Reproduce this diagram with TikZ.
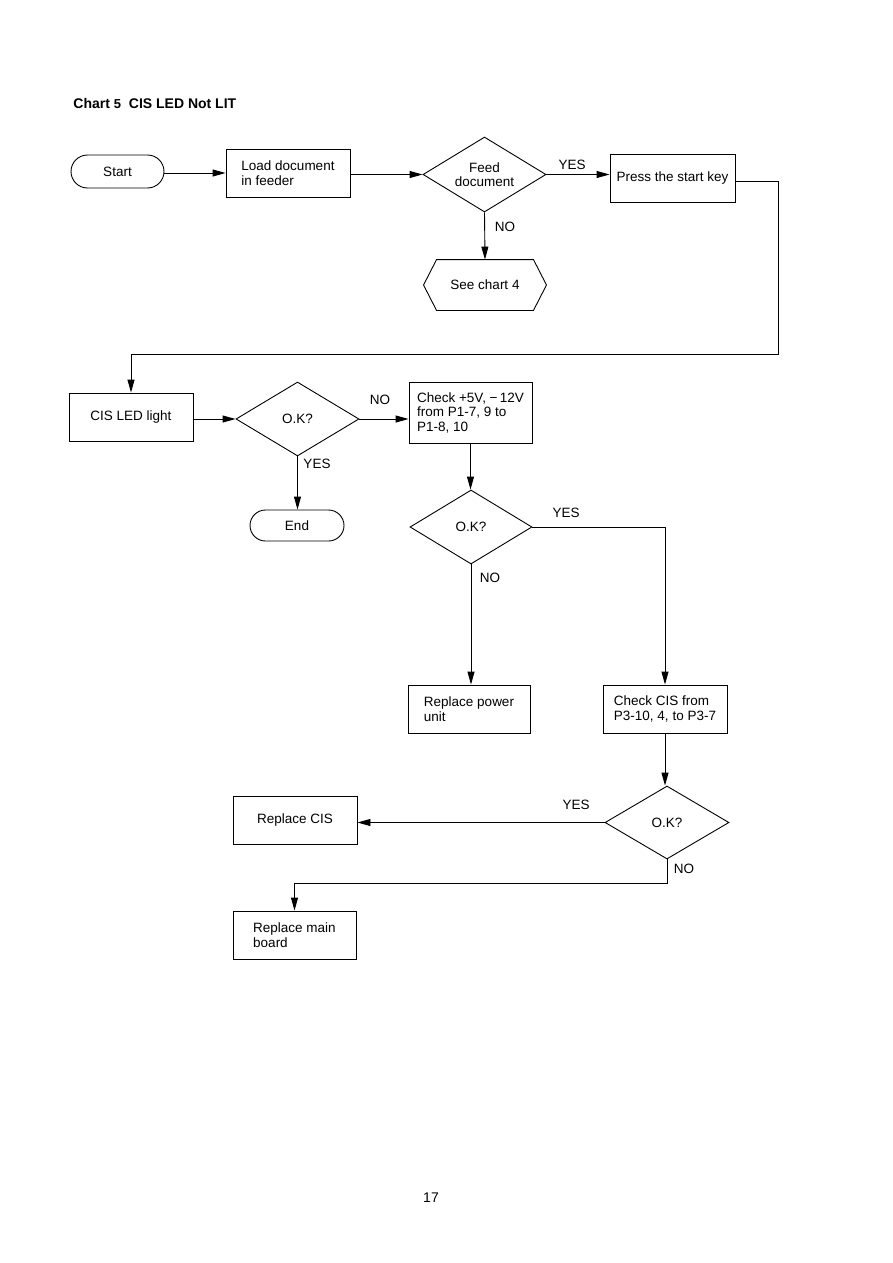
\documentclass[tikz,border=0pt]{standalone}
\usepackage{fontspec}
\setmainfont{Liberation Sans}
\usetikzlibrary{arrows.meta,shapes.geometric,shapes.misc}
\begin{document}
\begin{tikzpicture}[x=1pt,y=-1pt,line width=0.9pt,
  font=\fontsize{13.5}{14.5}\selectfont,
  proc/.style={draw,rectangle,align=left,inner sep=0pt},
  term/.style={draw,rounded rectangle,inner sep=0pt},
  dec/.style={draw,diamond,aspect=1.65,inner sep=0pt,align=center},
  lbl/.style={inner sep=0pt},
  arr/.style={-{Triangle[length=13pt,width=7pt]}}]
\useasboundingbox[fill=white] (0,0) rectangle (893,1263);
% title
\node[lbl,anchor=base west,font=\fontsize{14}{16}\selectfont\bfseries] (title) at (73,108)
  {Chart {\fontsize{13}{16}\selectfont 5}\ \ CIS LED Not LIT};
% row 1
\node[term,minimum width=93,minimum height=33] (start) at (117.5,171.5) {Start};
\node[proc,minimum width=124,minimum height=48] (load) at (288,173) {Load document\\in feeder};
\node[dec,minimum width=123,minimum height=75] (feed) at (484.5,174.5) {Feed\\document};
\node[proc,minimum width=125,minimum height=48] (press) at (672.5,178) {Press the start key};
\node[lbl,minimum width=122,minimum height=50] (see) at (485,285) {See chart 4};
\draw (see.west) -- ([xshift=13pt]see.north west) -- ([xshift=-13pt]see.north east)
  -- (see.east) -- ([xshift=-13pt]see.south east) -- ([xshift=13pt]see.south west) -- cycle;
\node[lbl] (yes1) at (572,165) {YES};
\node[lbl] (no1) at (505,227) {NO};
\draw[arr] (start.east |- load.east) -- (load.west);
\draw[arr] (load.east |- feed.west) -- (feed.west);
\draw[arr] (feed.east) -- (feed.east -| press.west);
\draw[arr] (feed.south) -- (see.north);
\coordinate (r1) at (778,354);
% row 2
\node[proc,minimum width=124,minimum height=48] (cis) at (131,417) {CIS LED light};
\node[dec,minimum width=123,minimum height=74] (ok1) at (297.5,419) {O.K?};
\node[proc,minimum width=123,minimum height=61] (chk) at (470.5,412.5) {Check +5V, −\,12V\\from P1-7, 9 to\\P1-8, 10};
\node[term,minimum width=94,minimum height=31] (end) at (297,525.5) {End};
\node[lbl] (no2) at (380,400) {NO};
\node[lbl] (yes2) at (317,464) {YES};
\draw[arr] ([yshift=-3pt]press.east) -| (r1) -| (cis.north);
\draw[arr] (cis.east |- ok1.west) -- (ok1.west);
\draw[arr] (ok1.east) -- (ok1.east -| chk.west);
\draw[arr] (ok1.south) -- (ok1.south |- end.north);
% row 3
\node[dec,minimum width=122,minimum height=74] (ok2) at (471,527) {O.K?};
\node[lbl] (yes3) at (566,513) {YES};
\node[lbl] (no3) at (490,578) {NO};
\node[proc,minimum width=122,minimum height=48] (pwr) at (469,709) {Replace power\\unit};
\node[proc,minimum width=124,minimum height=48] (ccis) at (665,709) {Check CIS from\\P3-10, 4, to P3-7};
\draw[arr] (chk.south) -- (chk.south |- ok2.north);
\draw[arr] (ok2.south) -- (ok2.south |- pwr.north);
\draw[arr] (ok2.east) -| (ccis.north);
% row 4
\node[dec,minimum width=124,minimum height=73] (ok3) at (667,822.5) {O.K?};
\node[proc,minimum width=124,minimum height=48] (rcis) at (295,820) {Replace CIS};
\node[proc,minimum width=123,minimum height=48] (main) at (294.5,935) {Replace main\\board};
\node[lbl] (yes4) at (576,805) {YES};
\node[lbl] (no4) at (684,869) {NO};
\draw[arr] (ccis.south) -- (ccis.south |- ok3.north);
\draw[arr] (ok3.west) -- (ok3.west -| rcis.east);
\coordinate (r2) at (296,883);
\draw[arr] (ok3.south) |- (main.north |- r2) -- (main.north);
% page number
\node[lbl,font=\fontsize{14}{16}\selectfont] (page) at (431,1198) {17};
\end{tikzpicture}
\end{document}
